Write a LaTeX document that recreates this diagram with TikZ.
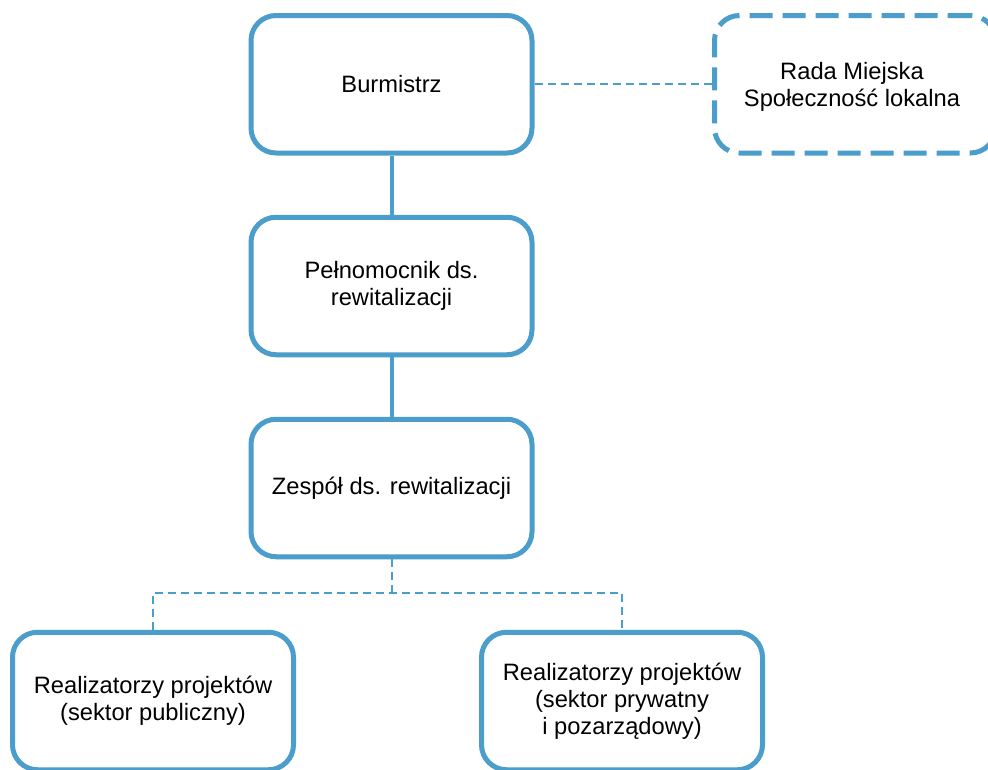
\documentclass[tikz,border=0pt]{standalone}
\usepackage{fontspec}
\setmainfont{Liberation Sans}
\definecolor{orgblue}{RGB}{75,157,203}
\begin{document}
\begin{tikzpicture}[x=1pt,y=-1pt,
  orgbox/.style={draw=orgblue, line width=5pt, rounded corners=25pt, fill=white,
    minimum width=281pt, minimum height=137.5pt, align=center, inner sep=0pt,
    font=\fontsize{23.7}{27}\selectfont, text=black},
  dashbox/.style={orgbox, dash pattern=on 23pt off 10pt},
  solidconn/.style={draw=orgblue, line width=4pt},
  dashconn/.style={draw=orgblue, line width=2pt, dash pattern=on 8pt off 5pt}]
\useasboundingbox (0,0) rectangle (988,769);
\clip (0,0) rectangle (988,769);
\node[orgbox] (burm) at (391.5,84.25) {Burmistrz};
\node[dashbox] (rada) at (855,84.25) {};
\node[align=center, font=\fontsize{23.7}{27}\selectfont] (radatext) at (852,87) {Rada Miejska\\Społeczność lokalna};
\node[orgbox] (peln) at (391.5,286) {Pełnomocnik ds.\\rewitalizacji};
\node[orgbox] (zesp) at (391.5,488) {Zespół ds. rewitalizacji};
\node[orgbox] (publ) at (153,701) {Realizatorzy projektów\\(sektor publiczny)};
\node[orgbox] (pryw) at (622,701) {Realizatorzy projektów\\(sektor prywatny\\i pozarządowy)};
\coordinate (mid) at (391.5,593);
\draw[solidconn] (burm) -- (peln);
\draw[solidconn] (peln) -- (zesp);
\draw[dashconn] (burm.east) -- (rada.west);
\draw[dashconn] (zesp.south) -- (mid);
\draw[dashconn] (publ.north) |- (mid) -| (pryw.north);
\end{tikzpicture}
\end{document}
